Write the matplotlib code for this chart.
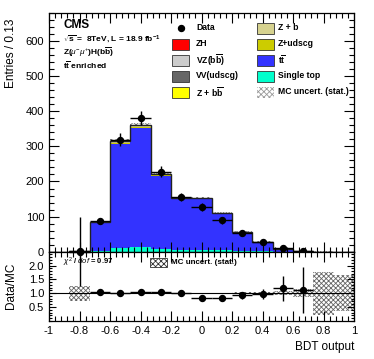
import numpy as np
import matplotlib
matplotlib.use("Agg")
import matplotlib.pyplot as plt
from matplotlib.patches import Rectangle
from matplotlib.ticker import MultipleLocator, FixedLocator

plt.rcParams['font.family'] = ['Liberation Sans', 'DejaVu Sans']
plt.rcParams['mathtext.fontset'] = 'custom'
plt.rcParams['mathtext.rm'] = 'Liberation Sans'
plt.rcParams['mathtext.it'] = 'Liberation Sans:italic'
plt.rcParams['mathtext.bf'] = 'Liberation Sans:bold'
plt.rcParams['hatch.linewidth'] = 0.6

# ---------------- data ----------------
bin_edges = [-1.0, -0.8667, -0.7333, -0.6, -0.4667, -0.3333, -0.2, -0.0667,
             0.0667, 0.2, 0.3333, 0.4667, 0.6, 0.7333, 0.8667, 1.0]
single_top = [0, 0.05, 3, 11, 12, 8, 6, 5, 4, 2, 1, 0.3, 0.05, 0, 0]
ttbar = [0, 0.4, 78.2, 296.5, 340.5, 208.7, 144.7, 146.5, 104.5, 54.2, 26.6, 8.05, 1.7, 0.43, 0.19]
z_udscg = [0, 0.2, 1.2, 3, 3.5, 2, 1.2, 0.8, 0.5, 0.3, 0.1, 0.05, 0.02, 0.01, 0]
z_b = [0, 0.05, 0.3, 1, 1, 0.6, 0.4, 0.3, 0.2, 0.1, 0.05, 0.02, 0.01, 0, 0]
z_bb = [0, 0.1, 1, 3.5, 4, 2, 1.2, 1, 0.6, 0.3, 0.15, 0.05, 0.02, 0.01, 0]
vv_udscg = [0, 0, 0.2, 0.6, 0.6, 0.4, 0.3, 0.2, 0.1, 0.05, 0.02, 0, 0, 0, 0]
vz_bb = [0, 0, 0.1, 0.3, 0.3, 0.2, 0.15, 0.1, 0.08, 0.05, 0.02, 0.01, 0, 0, 0]
zh = [0, 0, 0.02, 0.05, 0.05, 0.05, 0.05, 0.05, 0.05, 0.05, 0.03, 0.02, 0.01, 0.01, 0.01]
mc_unc = [0, 0.22, 1.5, 4, 4.5, 3.5, 3, 3, 2.5, 1.8, 1.2, 0.6, 0.25, 0.36, 0.13]
data = [0, 2, 88, 319, 380, 228, 156, 128, 89, 53, 27, 10, 2, 0, 0]
data_err = [0, 1.0, 9.4, 17.9, 19.5, 15.1, 12.5, 11.3, 9.4, 7.3, 5.2, 3.8, 1.5, 0, 0]

x_ticklabels = ['-1', '-0.8', '-0.6', '-0.4', '-0.2', '0', '0.2', '0.4', '0.6', '0.8', '1']
chi2_text = r'$\chi^{2}$ / $dof$ = 0.97'

components = [
    ('Single top', single_top, '#00FFCC'),
    (r't$\overline{\mathbf{t}}$', ttbar, '#3333FF'),
    ('Z+udscg', z_udscg, '#CCCC00'),
    ('Z + b', z_b, '#D6D28F'),
    (r'Z + b$\overline{\mathbf{b}}$', z_bb, '#FFFF00'),
    ('VV(udscg)', vv_udscg, '#666666'),
    (r'VZ(b$\overline{\mathbf{b}}$)', vz_bb, '#CCCCCC'),
    ('ZH', zh, '#FF0000'),
]

edges = np.array(bin_edges)
centers = 0.5 * (edges[:-1] + edges[1:])
halfw = 0.5 * (edges[1:] - edges[:-1])

W, H = 374, 359
fig = plt.figure(figsize=(W / 100, H / 100), dpi=100)

def fx(px):
    return px / W

def fy(py):
    return 1 - py / H

ax = fig.add_axes([fx(49), fy(251.7), fx(354) - fx(49), fy(13) - fy(251.7)])
rax = fig.add_axes([fx(49), fy(320.8), fx(354) - fx(49), fy(251.7) - fy(320.8)])

# ---------------- main stack ----------------
base = np.zeros(len(centers))
for name, vals, col in components:
    v = np.array(vals, dtype=float)
    ax.stairs(base + v, edges, baseline=base.copy(), fill=True, color=col, lw=0)
    base = base + v
total = base
unc = np.array(mc_unc)
ax.stairs(total + unc, edges, baseline=total - unc, fill=True, facecolor='none',
          edgecolor='#777777', hatch='xxxxxx', lw=0)
ax.stairs(total, edges, color='#222222', lw=1.0)

d = np.array(data, dtype=float)
de = np.array(data_err, dtype=float)
m = d > 0
ax.errorbar(centers[m], d[m], yerr=de[m], xerr=halfw[m], fmt='o', color='black',
            ms=4.3, lw=1.0, capsize=0, zorder=5)

ax.set_xlim(-1, 1)
ax.set_ylim(0, 680)
ax.yaxis.set_major_locator(MultipleLocator(100))
ax.yaxis.set_minor_locator(MultipleLocator(20))
ax.xaxis.set_major_locator(MultipleLocator(0.2))
ax.xaxis.set_minor_locator(MultipleLocator(0.04))
ax.tick_params(which='both', direction='in', top=True, right=True, labelsize=8)
ax.tick_params(which='major', length=7, width=0.8)
ax.tick_params(which='minor', length=3.5, width=0.8)
ax.tick_params(axis='x', labelbottom=False)
ax.set_ylabel('Entries / 0.13', fontsize=8.5, loc='top')
for s in ax.spines.values():
    s.set_linewidth(0.9)

# texts
fig.text(fx(63), fy(25), 'CMS', fontsize=8.5, fontweight='bold', va='center', ha='left')
fig.text(fx(63), fy(39), r'$\sqrt{\mathbf{s}}$ =  8TeV, L = 18.9 fb$^{\mathbf{-1}}$', fontsize=6.0,
         fontweight='bold', va='center', ha='left')
fig.text(fx(63), fy(52), r'Z($\mu^{-}\mu^{+}$)H(b$\overline{\mathbf{b}}$)', fontsize=6.0,
         fontweight='bold', va='center', ha='left')
fig.text(fx(63), fy(65), r't$\overline{\mathbf{t}}$ enriched', fontsize=6.0,
         fontweight='bold', va='center', ha='left')

# legend (manual)
comp = {c[0]: c for c in components}
left_col = [('Data', None), ('ZH', comp['ZH'][2]), (r'VZ(b$\overline{\mathbf{b}}$)', comp[r'VZ(b$\overline{\mathbf{b}}$)'][2]),
            ('VV(udscg)', comp['VV(udscg)'][2]), (r'Z + b$\overline{\mathbf{b}}$', comp[r'Z + b$\overline{\mathbf{b}}$'][2])]
right_col = [('Z + b', comp['Z + b'][2]), ('Z+udscg', comp['Z+udscg'][2]),
             (r't$\overline{\mathbf{t}}$', comp[r't$\overline{\mathbf{t}}$'][2]),
             ('Single top', comp['Single top'][2]), ('MC uncert. (stat.)', 'hatch')]
rows_y = [28, 44, 60, 76, 92]
for (lab, col), yy in zip(left_col, rows_y):
    if col is None:
        fig.lines.append(plt.Line2D([fx(181)], [fy(yy)], marker='o', ms=4.3, color='black',
                                    transform=fig.transFigure))
    else:
        fig.patches.append(Rectangle((fx(172), fy(yy + 5.5)), fx(17), 11 / H, facecolor=col,
                                     edgecolor='#333333', lw=0.6, transform=fig.transFigure))
    fig.text(fx(196), fy(yy), lab, fontsize=6.2, fontweight='bold', va='center', ha='left')
for (lab, col), yy in zip(right_col, rows_y):
    if col == 'hatch':
        fig.patches.append(Rectangle((fx(257), fy(yy + 5.5)), fx(17), 11 / H, facecolor='none',
                                     edgecolor='#999999', hatch='xxxxxx', lw=0,
                                     transform=fig.transFigure))
    else:
        fig.patches.append(Rectangle((fx(257), fy(yy + 5.5)), fx(17), 11 / H, facecolor=col,
                                     edgecolor='#333333', lw=0.6, transform=fig.transFigure))
    fig.text(fx(278), fy(yy), lab, fontsize=6.2, fontweight='bold', va='center', ha='left')

# ---------------- ratio ----------------
with np.errstate(divide='ignore', invalid='ignore'):
    ratio = np.where(total > 0, d / total, np.nan)
    ratio_err = np.where(total > 0, de / total, np.nan)
    rel_unc = np.where(total > 0, unc / total, np.nan)
mm = total > 0
rax.stairs(np.where(mm, 1 + rel_unc, 1), edges, baseline=np.where(mm, 1 - rel_unc, 1), fill=True,
           facecolor='none', edgecolor='#666666', hatch='xxxxxxx', lw=0)
rax.axhline(1, color='black', lw=0.8)
mr = m & mm
rax.errorbar(centers[mr], ratio[mr], yerr=ratio_err[mr], xerr=halfw[mr], fmt='o', color='black',
             ms=4.3, lw=1.0, capsize=0, zorder=5, clip_on=False)
rax.set_xlim(-1, 1)
rax.set_ylim(0, 2.5)
rax.yaxis.set_major_locator(FixedLocator([0.5, 1, 1.5, 2]))
rax.yaxis.set_minor_locator(MultipleLocator(0.1))
rax.xaxis.set_major_locator(FixedLocator([-1 + 0.2 * i for i in range(11)]))
rax.set_xticklabels(x_ticklabels)
rax.xaxis.set_minor_locator(MultipleLocator(0.04))
rax.tick_params(which='both', direction='in', top=True, right=True, labelsize=8)
rax.tick_params(which='major', length=7, width=0.8)
rax.tick_params(which='minor', length=3.5, width=0.8)
rax.tick_params(axis='y', which='major', length=5)
rax.tick_params(axis='y', which='minor', length=2.5)
rax.set_ylabel('Data/MC', fontsize=8.5)
rax.set_xlabel('BDT output', fontsize=8.5, loc='right', labelpad=4)
for s in rax.spines.values():
    s.set_linewidth(0.9)

fig.text(fx(63), fy(262), chi2_text, fontsize=5.5, fontweight='bold', va='center', ha='left')
fig.patches.append(Rectangle((fx(150), fy(266.5)), fx(17), 9 / H, facecolor='white',
                             edgecolor='#333333', hatch='xxxxxx', lw=0.6, transform=fig.transFigure))
fig.text(fx(171), fy(262), 'MC uncert. (stat.)', fontsize=5.8, fontweight='bold', va='center', ha='left')

ax.yaxis.set_label_coords(-0.105, 0.975)
rax.yaxis.set_label_coords(-0.105, 0.5)

fig.savefig('out.png', dpi=100)
